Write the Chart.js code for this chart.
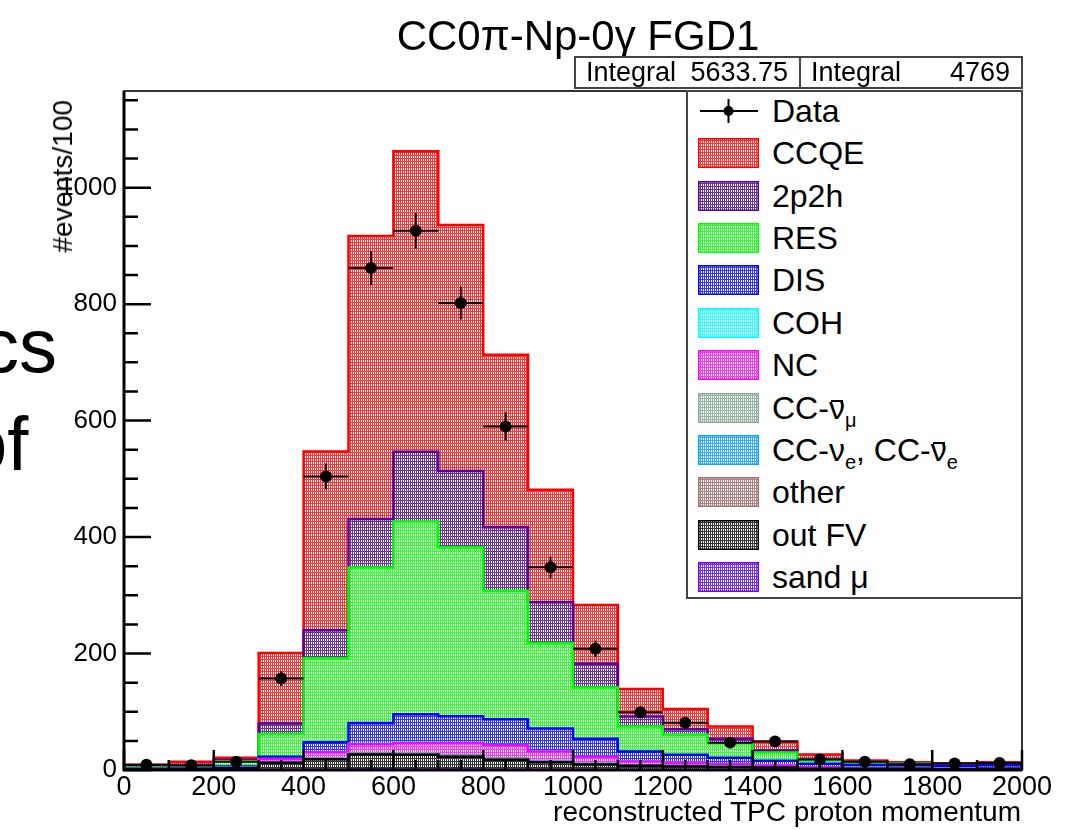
<!DOCTYPE html>
<html lang="en">
<head>
  <meta charset="UTF-8" />
  <title>CC0π-Np-0γ FGD1</title>
  <style>
    body {
      margin: 0;
      background: #fff;
      color: #000;
      font-family: "Liberation Sans", Arial, sans-serif;
    }
    #wrap { position: relative; width: 1086px; height: 830px; overflow: hidden; }
    #chart { position: absolute; left: 0; top: 0; }

    .slide { position: absolute; font-size: 76px; line-height: 1; white-space: nowrap; }

    #title {
      position: absolute; left: 578px; top: 15px;
      transform: translateX(-50%);
      font-size: 42px; line-height: 1; white-space: nowrap;
    }

    .stat {
      position: absolute; top: 56px; height: 33px;
      box-sizing: border-box; border: 2px solid #444; background: #fff;
      font-size: 27px; line-height: 29px; white-space: nowrap;
    }
    .stat .k { position: absolute; left: 10px; }
    .stat .v { position: absolute; right: 11px; }

    #ytitle {
      position: absolute; left: 63px; top: 100px;
      transform-origin: 0 0;
      transform: rotate(-90deg) translate(-100%, -50%);
      font-size: 28px; line-height: 1; white-space: nowrap;
    }
    #xtitle {
      position: absolute; right: 65px; top: 798px;
      font-size: 28px; line-height: 1; white-space: nowrap;
    }

    #legend {
      position: absolute; left: 686px; top: 90px; width: 337px; height: 509px;
      box-sizing: border-box; border: 2px solid #444; background: #fff;
    }
    .row {
      position: absolute; left: 0; right: 0; height: 42px;
      font-size: 32px; line-height: 42px; white-space: nowrap;
    }
    .row canvas { position: absolute; left: 10px; top: 6px; }
    .row .t { position: absolute; left: 84px; }
    .bar { position: relative; display: inline-block; line-height: 1; }
    .bar::before {
      content: ""; position: absolute; left: 2px; right: 2px; top: 8px;
      border-top: 2px solid #000;
    }
    sub { font-size: 20px; vertical-align: -8px; line-height: 0; }
  </style>
</head>
<body>
  <div id="wrap">
    <canvas id="chart" width="1086" height="830" style="width:1086px;height:830px"></canvas>
    <div class="slide" style="left:-19px;top:308px">cs</div>
    <div class="slide" style="left:-35px;top:406px">of</div>
    <div id="title">CC0π-Np-0γ FGD1</div>
    <div class="stat" style="left:574px;width:227px"><span class="k">Integral</span><span class="v" id="mcInt"></span></div>
    <div class="stat" style="left:799px;width:224px"><span class="k">Integral</span><span class="v" id="dataInt"></span></div>
    <div id="ytitle">#events/100</div>
    <div id="xtitle">reconstructed TPC proton momentum</div>
    <div id="legend"></div>
  </div>

  <script src="https://cdn.jsdelivr.net/npm/chart.js"></script>
  <script>
    // binning: 20 bins of 100 MeV/c
    const binEdges = [0, 100, 200, 300, 400, 500, 600, 700, 800, 900, 1000,
                      1100, 1200, 1300, 1400, 1500, 1600, 1700, 1800, 1900, 2000];
    const xTicks = [0, 200, 400, 600, 800, 1000, 1200, 1400, 1600, 1800, 2000];
    const yTicks = [0, 200, 400, 600, 800, 1000];

    const dataCounts = [9, 8, 14, 157, 504, 862, 926, 802, 590, 348,
                        208, 99, 81, 47, 49, 18, 14, 10, 11, 12];

    // MC predictions per reaction channel
    const ccqe       = [5, 5, 4, 121, 307, 486, 516, 422.5, 296, 193, 101, 47, 34.85, 21, 15.6, 7.5, 4, 1.5, 1.5, 1.5];
    const twoP2h     = [0.5, 1, 2, 18, 48, 83, 120, 131, 109, 70, 41, 17, 9.6, 8, 3.3, 1.6, 1, 1, 0.5, 1];
    const res        = [1.5, 4, 9, 39, 144, 267, 331, 290, 221, 147, 88, 43, 34.5, 24.6, 14.3, 7, 3, 3, 2.5, 2.5];
    const dis        = [0.5, 1, 2, 4, 17, 36, 49, 46, 44, 39, 31, 17, 13.5, 11, 8, 6, 5, 4.5, 4.5, 5];
    const coh        = [0, 0, 0, 0.2, 0.5, 0.8, 0.8, 0.6, 0.5, 0.3, 0.2, 0.1, 0.1, 0, 0, 0, 0, 0, 0, 0];
    const nc         = [0.5, 1, 1, 5, 10, 15, 17, 20, 22, 16, 11, 6, 5, 4, 3, 2, 1, 1, 1, 1];
    const ccAntiNumu = [0, 0, 0, 0.5, 0.8, 1.2, 1.4, 1.5, 1.4, 1.2, 1, 0.8, 0.6, 0.5, 0.4, 0.3, 0.2, 0.2, 0.1, 0.1];
    const ccNue      = [0, 0, 0, 0.3, 0.5, 0.6, 0.7, 0.8, 0.8, 0.7, 0.6, 0.5, 0.4, 0.3, 0.3, 0.2, 0.2, 0.1, 0.1, 0.1];
    const other      = [0, 0, 0, 0.5, 0.5, 0.8, 0.8, 0.8, 0.7, 0.5, 0.4, 0.3, 0.2, 0.2, 0.1, 0.1, 0, 0, 0, 0];
    const outFV      = [1, 2, 3, 12, 18, 25, 25, 22, 17, 13, 9, 7, 6, 5, 4, 2, 2, 2, 1.5, 2];
    const sandMu     = [0, 0, 0, 0.3, 0.5, 1.5, 1, 0.8, 0.6, 0.4, 0.3, 0.2, 0.2, 0.1, 0.1, 0, 0, 0, 0, 0];

    // stack order, bottom first
    const stackOrder = [
      { values: sandMu,     fill: "#4d00e3", line: "#7700ee", label: "sand μ" },
      { values: outFV,      fill: "#000000", line: "#000000", label: "out FV" },
      { values: other,      fill: "#986060", line: "#a37171", label: "other" },
      { values: ccNue,      fill: "#0098ff", line: "#0da3ff", label: 'CC-ν<sub>e</sub>, CC-<span class="bar">ν</span><sub>e</sub>' },
      { values: ccAntiNumu, fill: "#7ca18e", line: "#8aac9b", label: 'CC-<span class="bar">ν</span><sub>μ</sub>' },
      { values: nc,         fill: "#ff00ff", line: "#ff00ff", label: "NC" },
      { values: coh,        fill: "#00ffff", line: "#00ffff", label: "COH" },
      { values: dis,        fill: "#0000ff", line: "#0000ff", label: "DIS" },
      { values: res,        fill: "#00ff00", line: "#00ff00", label: "RES" },
      { values: twoP2h,     fill: "#430085", line: "#5c0099", label: "2p2h" },
      { values: ccqe,       fill: "#ff0000", line: "#ff0000", label: "CCQE" }
    ];

    // ROOT-like dotted fill: dotted white columns over the channel colour
    function dotPattern(color) {
      const c = document.createElement("canvas");
      c.width = 2; c.height = 3;
      const g = c.getContext("2d");
      g.fillStyle = "#fff"; g.fillRect(0, 0, 2, 3);
      g.globalAlpha = 0.8; g.fillStyle = color; g.fillRect(0, 0, 2, 3);
      g.globalAlpha = 1; g.fillStyle = "#fff";
      g.fillRect(1, 0, 1, 2);
      return g.createPattern(c, "repeat");
    }

    const nBins = binEdges.length - 1;
    let running = new Array(nBins).fill(0);
    const mcSets = stackOrder.map((c, k) => {
      running = running.map((v, i) => v + c.values[i]);
      const pts = running.map((v, i) => ({ x: binEdges[i], y: v }));
      pts.push({ x: binEdges[nBins], y: running[nBins - 1] });
      return {
        type: "line",
        data: pts,
        stepped: true,
        borderColor: c.line,
        borderWidth: 2.5,
        backgroundColor: dotPattern(c.fill),
        fill: k === 0 ? "origin" : "-1",
        pointRadius: 0,
        order: 2
      };
    });

    // data points with sqrt(N) errors
    const hErr = [], vErr = [], points = [];
    dataCounts.forEach((n, i) => {
      const c = (binEdges[i] + binEdges[i + 1]) / 2;
      const e = Math.sqrt(n);
      hErr.push({ x: binEdges[i], y: n }, { x: binEdges[i + 1], y: n }, { x: binEdges[i + 1], y: null });
      vErr.push({ x: c, y: n - e }, { x: c, y: n + e }, { x: c, y: null });
      points.push({ x: c, y: n });
    });
    const errStyle = { type: "line", borderColor: "#000", borderWidth: 2, pointRadius: 0, fill: false, spanGaps: false, order: 1 };

    // frame and inward ticks
    const rootAxes = {
      id: "rootAxes",
      afterDatasetsDraw(chart) {
        const { ctx, chartArea: a, scales: { x, y } } = chart;
        ctx.save();
        ctx.strokeStyle = "#333";
        ctx.lineWidth = 2;
        ctx.strokeRect(a.left, a.top, a.right - a.left, a.bottom - a.top);
        ctx.strokeStyle = "#000";
        ctx.lineWidth = 3;
        ctx.beginPath();
        ctx.moveTo(a.left, a.top); ctx.lineTo(a.left, a.bottom); ctx.lineTo(a.right, a.bottom);
        ctx.stroke();
        ctx.lineWidth = 2.5;
        ctx.beginPath();
        for (let v = 0; v <= y.max; v += 50) {
          const len = v % 200 === 0 ? 27 : 14;
          const py = y.getPixelForValue(v);
          ctx.moveTo(a.left, py); ctx.lineTo(a.left + len, py);
        }
        for (let v = 0; v <= x.max; v += 50) {
          const len = v % 200 === 0 ? 20 : 10;
          const px = x.getPixelForValue(v);
          ctx.moveTo(px, a.bottom); ctx.lineTo(px, a.bottom - len);
        }
        ctx.stroke();
        ctx.restore();
      }
    };

    Chart.defaults.font.family = '"Liberation Sans", Arial, sans-serif';
    Chart.defaults.color = "#000";

    new Chart(document.getElementById("chart"), {
      type: "line",
      data: {
        datasets: [
          ...mcSets,
          { ...errStyle, data: hErr },
          { ...errStyle, data: vErr },
          { type: "line", data: points, showLine: false, pointRadius: 6, pointHoverRadius: 6,
            pointBackgroundColor: "#000", pointBorderWidth: 0, order: 0 }
        ]
      },
      options: {
        responsive: false,
        animation: false,
        layout: { padding: { top: 91, right: 64, left: 0, bottom: 0 } },
        plugins: {
          legend: { display: false },
          tooltip: { enabled: false },
          filler: { drawTime: "beforeDatasetsDraw" }
        },
        scales: {
          x: {
            type: "linear", min: 0, max: 2000,
            afterBuildTicks: s => { s.ticks = xTicks.map(v => ({ value: v })); },
            afterFit: s => { s.height = 60; },
            ticks: { autoSkip: false, maxRotation: 0, padding: 1, font: { size: 27 }, callback: v => String(v) },
            grid: { display: false, drawTicks: false },
            border: { display: false }
          },
          y: {
            min: 0, max: 1166,
            afterBuildTicks: s => { s.ticks = yTicks.map(v => ({ value: v })); },
            afterFit: s => { s.width = 124; },
            ticks: { autoSkip: false, padding: 7, font: { size: 26 }, callback: v => String(v) },
            grid: { display: false, drawTicks: false },
            border: { display: false }
          }
        }
      },
      plugins: [rootAxes]
    });

    // integrals
    const sum = arr => arr.reduce((a, b) => a + b, 0);
    const mcTotal = stackOrder.reduce((t, c) => t + sum(c.values), 0);
    document.getElementById("mcInt").textContent = mcTotal.toFixed(2);
    document.getElementById("dataInt").textContent = String(sum(dataCounts));

    // legend, top entry first
    function swatch(draw) {
      const c = document.createElement("canvas");
      c.width = 61; c.height = 30;
      draw(c.getContext("2d"));
      return c;
    }
    const legend = document.getElementById("legend");
    const entries = [{ label: "Data", data: true }, ...stackOrder.slice().reverse()];
    entries.forEach((e, i) => {
      const row = document.createElement("div");
      row.className = "row";
      row.style.top = (110.8 + 42.4 * i - 21 - 92) + "px";
      const sw = swatch(g => {
        if (e.data) {
          g.strokeStyle = "#000"; g.lineWidth = 2;
          g.beginPath();
          g.moveTo(2, 15); g.lineTo(60, 15);
          g.moveTo(30.5, 3); g.lineTo(30.5, 27);
          g.stroke();
          g.fillStyle = "#000";
          g.beginPath(); g.arc(30.5, 15, 5, 0, Math.PI * 2); g.fill();
        } else {
          g.fillStyle = dotPattern(e.fill);
          g.fillRect(0, 0, 61, 30);
          g.strokeStyle = e.line; g.lineWidth = 1.5;
          g.strokeRect(0.75, 0.75, 59.5, 28.5);
        }
      });
      row.appendChild(sw);
      const t = document.createElement("span");
      t.className = "t";
      t.innerHTML = e.label;
      row.appendChild(t);
      legend.appendChild(row);
    });
  </script>
</body>
</html>
